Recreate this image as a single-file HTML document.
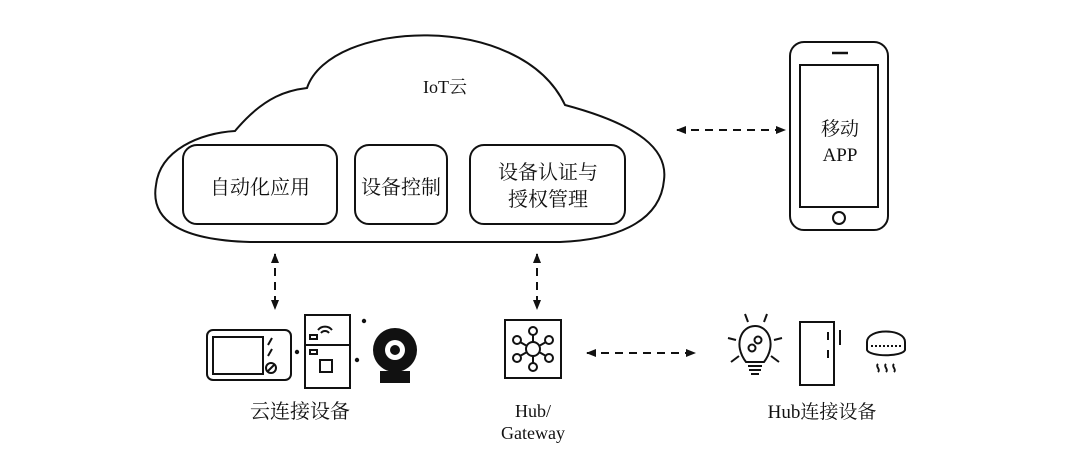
<!DOCTYPE html>
<html><head><meta charset="utf-8"><style>
body{margin:0;background:#fff}
svg{display:block}
text{font-family:"Liberation Serif","Noto Serif CJK SC",serif;fill:#111}
</style></head><body>
<svg width="1080" height="451" viewBox="0 0 1080 451" xmlns="http://www.w3.org/2000/svg">
<defs>
<marker id="a" viewBox="0 0 10 10" refX="9" refY="5" markerWidth="11" markerHeight="10" orient="auto-start-reverse" markerUnits="userSpaceOnUse"><path d="M0,1 L10,5 L0,9 z" fill="#111"/></marker>
</defs>
<g fill="none" stroke="#111" stroke-width="2">
<path d="M235,131 C265,95 290,90 307,88 C330,20 520,10 565,105 C640,125 668,150 664,180 C660,225 610,240 560,242 L250,242 C180,240 150,220 156,185 C160,150 200,133 235,131 Z"/>
<rect x="183" y="145" width="154" height="79" rx="14"/>
<rect x="355" y="145" width="92" height="79" rx="14"/>
<rect x="470" y="145" width="155" height="79" rx="14"/>
<rect x="790" y="42" width="98" height="188" rx="14"/>
<rect x="800" y="65" width="78" height="142"/>
<line x1="832" y1="53" x2="848" y2="53" stroke-width="2.5"/>
<circle cx="839" cy="218" r="6"/>
</g>
<g stroke="#111" stroke-width="2" stroke-dasharray="8,6" fill="none">
<line x1="677" y1="130" x2="785" y2="130" marker-start="url(#a)" marker-end="url(#a)"/>
<line x1="275" y1="254" x2="275" y2="309" marker-start="url(#a)" marker-end="url(#a)"/>
<line x1="537" y1="254" x2="537" y2="309" marker-start="url(#a)" marker-end="url(#a)"/>
<line x1="587" y1="353" x2="695" y2="353" marker-start="url(#a)" marker-end="url(#a)"/>
</g>
<text x="445" y="93" font-size="18" text-anchor="middle">IoT云</text>
<text x="260" y="194" font-size="20" text-anchor="middle">自动化应用</text>
<text x="401" y="194" font-size="20" text-anchor="middle">设备控制</text>
<text x="548" y="179" font-size="20" text-anchor="middle">设备认证与</text>
<text x="548" y="206" font-size="20" text-anchor="middle">授权管理</text>
<text x="840" y="135" font-size="19" text-anchor="middle">移动</text>
<text x="840" y="161" font-size="19" text-anchor="middle">APP</text>
<g fill="none" stroke="#111" stroke-width="2">
<rect x="207" y="330" width="84" height="50" rx="6"/>
<rect x="213" y="337" width="50" height="37"/>
<line x1="268" y1="345" x2="272" y2="338"/><line x1="268" y1="356" x2="272" y2="349"/>
<circle cx="271" cy="368" r="5"/><line x1="268" y1="371" x2="274" y2="365"/>
<rect x="305" y="315" width="45" height="73"/>
<line x1="305" y1="345" x2="350" y2="345"/>
<rect x="310" y="335" width="7" height="4"/><rect x="310" y="350" width="7" height="4"/>
<path d="M318,330 a9,9 0 0 1 14,0 M321,333 a5,5 0 0 1 8,0"/>
<rect x="320" y="360" width="12" height="12"/>
<rect x="505" y="320" width="56" height="58"/>
<circle cx="533" cy="349" r="7"/>
<circle cx="533" cy="331" r="4"/><circle cx="533" cy="367" r="4"/>
<circle cx="517" cy="340" r="4"/><circle cx="549" cy="340" r="4"/>
<circle cx="517" cy="358" r="4"/><circle cx="549" cy="358" r="4"/>
<path d="M533,335 V342 M533,356 V363 M520,342 L527,346 M546,342 L539,346 M520,356 L527,352 M546,356 L539,352"/>
<path d="M746,362 C733,345 741,326 755,326 C769,326 777,345 764,362 Z"/>
<path d="M748,366 H762 M749,370 H761 M751,374 H759"/>
<circle cx="758" cy="340" r="3.5"/><circle cx="752" cy="348" r="3.5"/>
<path d="M745,314 L748,322 M767,314 L764,322 M728,338 L736,340 M782,338 L774,340 M731,362 L739,356 M779,362 L771,356"/>
<rect x="800" y="322" width="34" height="63"/>
<path d="M828,332 V340 M828,350 V358 M840,330 V345"/>
<path d="M867,342 C867,328 905,328 905,342 L905,350 C902,357 870,357 867,350 Z"/>
<path d="M871,346 H901" stroke-dasharray="2,2"/>
<path d="M878,364 c-3,3 3,5 0,8 M886,364 c-3,3 3,5 0,8 M894,364 c-3,3 3,5 0,8"/>
</g>
<circle cx="297" cy="352" r="2.2" fill="#111"/><circle cx="364" cy="321" r="2.2" fill="#111"/><circle cx="357" cy="360" r="2.2" fill="#111"/>
<circle cx="395" cy="350" r="22" fill="#111"/>
<circle cx="395" cy="350" r="10" fill="#fff"/><circle cx="395" cy="350" r="5" fill="#111"/>
<rect x="380" y="371" width="30" height="12" fill="#111"/>
<text x="300" y="418" font-size="20" text-anchor="middle">云连接设备</text>
<text x="533" y="417" font-size="18" text-anchor="middle">Hub/</text>
<text x="533" y="439" font-size="18" text-anchor="middle">Gateway</text>
<text x="822" y="418" font-size="19" text-anchor="middle">Hub连接设备</text>
</svg>
</body></html>
